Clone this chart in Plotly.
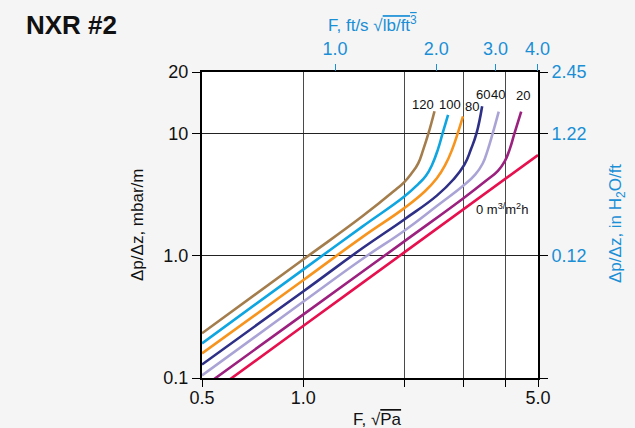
import math
import plotly.graph_objects as go

# ---------------- data ----------------
loads = ["120", "100", "80", "60", "40", "20", "0"]

F_120 = [0.5, 1.0, 1.5, 1.88, 2.0, 2.1, 2.2, 2.28, 2.36, 2.46]
dp_120 = [0.232, 0.93, 2.1, 3.45, 4.0, 4.7, 5.7, 7.45, 10.0, 15.2]

F_100 = [0.5, 1.0, 1.5, 2.0, 2.2, 2.32, 2.42, 2.52, 2.60, 2.70]
dp_100 = [0.192, 0.77, 1.73, 3.05, 3.85, 4.5, 5.55, 7.45, 10.0, 14.2]

F_80 = [0.5, 1.0, 1.5, 2.0, 2.3, 2.5, 2.65, 2.78, 2.884, 2.99]
dp_80 = [0.159, 0.63, 1.42, 2.45, 3.35, 4.3, 5.55, 7.45, 10.0, 13.8]

F_60 = [0.5, 1.0, 1.5, 2.0, 2.5, 2.8, 3.02, 3.16, 3.28, 3.41]
dp_60 = [0.129, 0.51, 1.15, 1.98, 3.1, 4.2, 5.55, 7.45, 10.0, 16.7]

F_40 = [0.5, 1.0, 1.5, 2.0, 2.5, 3.0, 3.25, 3.42, 3.55, 3.665, 3.82]
dp_40 = [0.105, 0.42, 0.94, 1.6, 2.55, 3.75, 4.6, 5.65, 7.45, 10.0, 15.1]

F_20 = [0.5, 1.0, 2.0, 3.0, 3.5, 3.8, 3.98, 4.12, 4.255, 4.456]
dp_20 = [0.083, 0.33, 1.31, 2.95, 4.1, 4.95, 5.9, 7.45, 10.0, 15.1]

F_0 = [0.5, 1.0, 2.0, 5.0]
dp_0 = [0.0665, 0.266, 1.064, 6.65]

colors = ["#a47d4c", "#0ea5e0", "#f7941d", "#2e2f86", "#aaa4d6", "#9c217f", "#e6104e"]

# axis ticks
x_tickvals = [0.5, 1.0, 2.0, 3.0, 4.0, 5.0]
x_ticktext = ["0.5", "1.0", "", "", "", "5.0"]
Y_TOP = 31.8  # top edge of the chart, labelled "20" in the reference
y_tickvals = [0.1, 1.0, 10.0, Y_TOP]
y_ticktext = ["0.1", "1.0", "10", "20"]
y2_ticktext = ["", "0.12", "1.22", "2.45"]
top_tickvals = [1.0, 2.0, 3.0, 4.0]
top_ticktext = ["1.0", "2.0", "3.0", "4.0"]
K_FT = 1.245  # sqrt(Pa) per ft/s*sqrt(lb/ft3) as drawn

# curve-label positions (F, dp)
label_F = [2.27, 2.73, 3.17, 3.42, 3.80, 4.52, 3.92]
label_dp = [17.1, 17.1, 16.5, 21.0, 21.0, 20.6, 2.41]
label_txt = ["120", "100", "80", "60", "40", "20", "0 m<sup>3/</sup>m<sup>2</sup>h"]

series_F = [F_120, F_100, F_80, F_60, F_40, F_20, F_0]
series_dp = [dp_120, dp_100, dp_80, dp_60, dp_40, dp_20, dp_0]

BLUE = "#1a8fd6"
BG = "#f5f5f5"
FONT = "Liberation Sans, Arial, sans-serif"

fig = go.Figure()
for name, xs, ys, c in zip(loads, series_F, series_dp, colors):
    fig.add_trace(go.Scatter(
        x=xs, y=ys, mode="lines", name=name,
        line=dict(color=c, width=2.6, shape="spline", smoothing=1.3),
        showlegend=False, hoverinfo="skip",
    ))

# invisible trace to anchor secondary axes
fig.add_trace(go.Scatter(x=[1.0, 2.0], y=[1.0, 2.0], xaxis="x2", yaxis="y2",
                         mode="lines", line=dict(width=0), opacity=0,
                         showlegend=False, hoverinfo="skip"))

x_range = [math.log10(0.5), math.log10(5.0)]
y_range = [math.log10(0.1), math.log10(Y_TOP)]

fig.update_layout(
    width=635, height=428, autosize=False,
    margin=dict(l=202, r=97, t=72, b=50),
    paper_bgcolor=BG, plot_bgcolor="#ffffff",
    font=dict(family=FONT, size=18, color="#111"),
    xaxis=dict(type="log", range=x_range, tickvals=x_tickvals, ticktext=x_ticktext,
               showgrid=True, gridcolor="#4a4a4a", gridwidth=1, automargin=False,
               showline=True, linecolor="#000", linewidth=2, mirror=True,
               ticks="outside", ticklen=7, tickcolor="#000", tickwidth=1.2,
               ticklabelstandoff=-5,
               tickfont=dict(size=18, color="#111"), zeroline=False),
    yaxis=dict(type="log", range=y_range, tickvals=y_tickvals, ticktext=y_ticktext,
               showgrid=True, gridcolor="#222", gridwidth=1, automargin=False,
               showline=True, linecolor="#000", linewidth=2, mirror=True,
               ticks="outside", ticklen=8, tickcolor="#000", tickwidth=1.2,
               tickfont=dict(size=18, color="#111"), zeroline=False),
    xaxis2=dict(type="log", range=[x_range[0] - math.log10(K_FT), x_range[1] - math.log10(K_FT)],
                overlaying="x", side="top", anchor="y", automargin=False,
                tickvals=top_tickvals, ticktext=top_ticktext,
                showgrid=False, showline=False, zeroline=False,
                ticks="outside", ticklen=7, tickcolor=BLUE, tickwidth=1.2,
                ticklabelstandoff=2,
                tickfont=dict(size=18, color=BLUE)),
    yaxis2=dict(type="log", range=y_range, overlaying="y", side="right", anchor="x",
                automargin=False,
                tickvals=y_tickvals, ticktext=y2_ticktext,
                showgrid=False, showline=False, zeroline=False,
                ticks="outside", ticklen=9, tickcolor="#000", tickwidth=1.2,
                tickfont=dict(size=18, color=BLUE)),
)

ann = []
for t, fx, fy in zip(label_txt, label_F, label_dp):
    ann.append(dict(x=math.log10(fx), y=math.log10(fy), xref="x", yref="y", text=t,
                    xanchor="center", yanchor="middle",
                    showarrow=False, font=dict(size=13, color="#111")))

def px(xp):
    return (xp - 202) / 336.0

def py(yp):
    return (378 - yp) / 306.0

ann += [
    dict(x=px(24), y=py(25), xref="paper", yref="paper", text="<b>NXR #2</b>",
         xanchor="left", yanchor="middle", showarrow=False, font=dict(size=26, color="#111")),
    dict(x=px(137), y=py(225), xref="paper", yref="paper", text="Δp/Δz, mbar/m",
         xanchor="center", yanchor="middle",
         textangle=-90, showarrow=False, font=dict(size=17, color="#111")),
    dict(x=px(617), y=py(224), xref="paper", yref="paper",
         text="Δp/Δz, in H<sub>2</sub>O/ft", xanchor="center", yanchor="middle",
         textangle=-90, showarrow=False, font=dict(size=17, color=BLUE)),
    dict(x=px(372), y=py(24), xref="paper", yref="paper",
         text="F, ft/s √<span style='text-decoration:overline'>lb/ft<sup>3</sup></span>",
         xanchor="center", yanchor="middle",
         showarrow=False, font=dict(size=17, color=BLUE)),
    dict(x=px(377), y=py(419), xref="paper", yref="paper",
         text="F, √<span style='text-decoration:overline'>Pa</span>",
         xanchor="center", yanchor="middle",
         showarrow=False, font=dict(size=17, color="#111")),
]
fig.update_layout(annotations=ann)

fig.write_html(
    "out.html",
    config={"displayModeBar": False},
    post_script="document.body.style.margin='0';document.body.style.background='" + BG + "';",
)
